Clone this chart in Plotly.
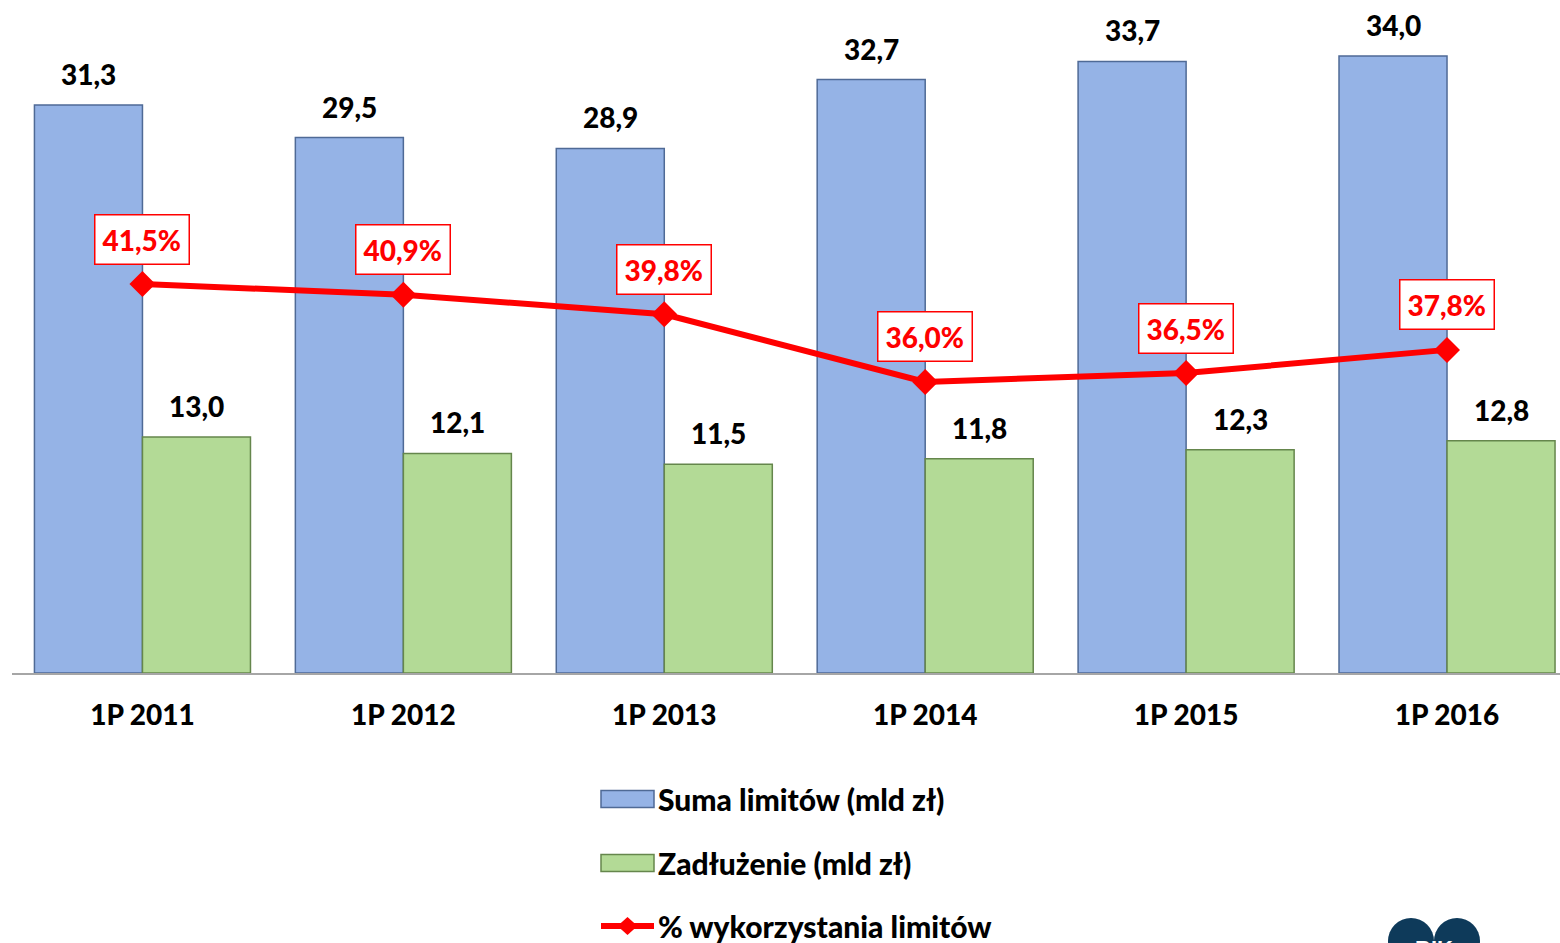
import plotly.graph_objects as go

categories = ["1P 2011", "1P 2012", "1P 2013", "1P 2014", "1P 2015", "1P 2016"]
suma_limitow = [31.3, 29.5, 28.9, 32.7, 33.7, 34.0]
zadluzenie = [13.0, 12.1, 11.5, 11.8, 12.3, 12.8]
wykorzystanie = [41.5, 40.9, 39.8, 36.0, 36.5, 37.8]
series_names = ["Suma limitów (mld zł)", "Zadłużenie (mld zł)", "% wykorzystania limitów"]

BLUE = "#95B3E6"
BLUE_EDGE = "#4F6A96"
GREEN = "#B3DA96"
GREEN_EDGE = "#65864C"
RED = "#FF0000"
FONT = "Lato"
FW = 900

W, H = 1560, 943
ML, MR, MT, MB = 12, 0, 20, 270
PW, PH = W - ML - MR, H - MT - MB
BARGAP = 0.172
cat_px = PW / (5.5 + 0.433)
half_offset = cat_px * (1 - BARGAP) / 4


def fmt(v, pct=False):
    s = f"{v:.1f}".replace(".", ",")
    return s + "%" if pct else s


def px_x(x):
    return (x - ML) / PW


def px_y(y):
    return (H - MB - y) / PH


fig = go.Figure()
fig.add_trace(go.Bar(x=categories, y=suma_limitow, name=series_names[0],
                     marker=dict(color=BLUE, line=dict(color=BLUE_EDGE, width=1.5)),
                     showlegend=False))
fig.add_trace(go.Bar(x=categories, y=zadluzenie, name=series_names[1],
                     marker=dict(color=GREEN, line=dict(color=GREEN_EDGE, width=1.5)),
                     showlegend=False))
fig.add_trace(go.Scatter(x=categories, y=wykorzystanie, name=series_names[2], yaxis="y2",
                         mode="lines+markers",
                         line=dict(color=RED, width=6),
                         marker=dict(symbol="diamond", size=20, color=RED),
                         showlegend=False, cliponaxis=False))

annotations = []
lab_font = dict(family=FONT, size=28, color="black", weight=FW)
for c, v in zip(categories, suma_limitow):
    annotations.append(dict(x=c, y=v, xref="x", yref="y", text=fmt(v),
                            showarrow=False, xshift=-half_offset, yshift=31, font=lab_font))
for c, v in zip(categories, zadluzenie):
    annotations.append(dict(x=c, y=v, xref="x", yref="y", text=fmt(v),
                            showarrow=False, xshift=half_offset, yshift=31, font=lab_font))
for c, v in zip(categories, wykorzystanie):
    annotations.append(dict(x=c, y=v, xref="x", yref="y2", text=fmt(v, True),
                            showarrow=False, yshift=45, bgcolor="white",
                            bordercolor=RED, borderwidth=1.5, borderpad=7,
                            font=dict(family=FONT, size=28, color=RED, weight=FW)))

# custom legend (paper coordinates)
legend_rows = [799, 863, 926]
shapes = []
sw_x0, sw_x1, txt_x = 601, 654, 656
for i, (name, yy) in enumerate(zip(series_names, legend_rows)):
    py = px_y(yy)
    if i < 2:
        fill, edge = (BLUE, BLUE_EDGE) if i == 0 else (GREEN, GREEN_EDGE)
        shapes.append(dict(type="rect", xref="paper", yref="paper",
                           x0=px_x(sw_x0), x1=px_x(sw_x1),
                           y0=px_y(yy + 8.5), y1=px_y(yy - 8.5), fillcolor=fill,
                           line=dict(color=edge, width=1.5)))
    else:
        shapes.append(dict(type="line", xref="paper", yref="paper",
                           x0=px_x(sw_x0), x1=px_x(sw_x1),
                           y0=py, y1=py, line=dict(color=RED, width=6)))
        cx = (sw_x0 + sw_x1) / 2
        shapes.append(dict(type="path", xref="paper", yref="paper",
                           path=f"M {px_x(cx - 10)} {py} L {px_x(cx)} {px_y(yy - 9)} "
                                f"L {px_x(cx + 10)} {py} L {px_x(cx)} {px_y(yy + 9)} Z",
                           fillcolor=RED, line=dict(width=0)))
    annotations.append(dict(x=px_x(txt_x), y=py, xref="paper", yref="paper", xanchor="left",
                            yanchor="middle", text=name, showarrow=False,
                            font=dict(family=FONT, size=30, color="black", weight=FW)))

# BIK logo (decorative, partly cropped at the bottom edge)
for cx in (1411, 1457):
    shapes.append(dict(type="circle", xref="paper", yref="paper",
                       x0=px_x(cx - 23), x1=px_x(cx + 23),
                       y0=px_y(964), y1=px_y(918),
                       fillcolor="#0E3A5A", line=dict(width=0), layer="above"))
annotations.append(dict(x=px_x(1434), y=px_y(934), xref="paper", yref="paper",
                        xanchor="center", yanchor="top",
                        text="<b>BIK</b>", showarrow=False,
                        font=dict(family="Liberation Sans", size=22, color="white")))

fig.update_layout(
    width=W, height=H,
    margin=dict(l=ML, r=MR, t=MT, b=MB, autoexpand=False),
    paper_bgcolor="white", plot_bgcolor="white",
    barmode="group", bargap=BARGAP, bargroupgap=0,
    showlegend=False,
    xaxis=dict(range=[-0.5, 5.433], showline=True, linecolor="#A6A6A6", linewidth=1.5,
               showgrid=False, zeroline=False, ticks="", ticklabelstandoff=17,
               tickfont=dict(family=FONT, size=28, color="black", weight=FW),
               automargin=False),
    yaxis=dict(range=[0, 35.98], visible=False),
    yaxis2=dict(range=[19.65, 56.33], overlaying="y", visible=False),
    annotations=annotations,
    shapes=shapes,
)

fig.write_html("out.html", config={"displayModeBar": False},
               post_script="document.body.style.margin='0';document.body.style.overflow='hidden';")
